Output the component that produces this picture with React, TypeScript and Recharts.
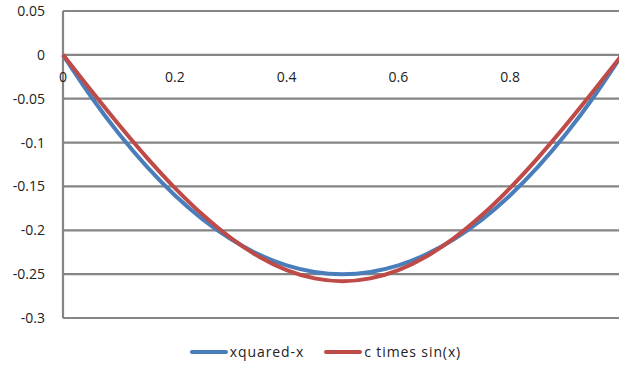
import { LineChart, Line, XAxis, YAxis, CartesianGrid, Legend, ReferenceDot } from 'recharts'

const xs = [0, 0.05, 0.1, 0.15, 0.2, 0.25, 0.3, 0.35, 0.4, 0.45, 0.5, 0.55, 0.6, 0.65, 0.7, 0.75, 0.8, 0.85, 0.9, 0.95, 1]
const squaredMinusX = [0, -0.0475, -0.09, -0.1275, -0.16, -0.1875, -0.21, -0.2275, -0.24, -0.2475, -0.25, -0.2475, -0.24, -0.2275, -0.21, -0.1875, -0.16, -0.1275, -0.09, -0.0475, 0]
const cTimesSin = [0, -0.0404, -0.0797, -0.1171, -0.1516, -0.1824, -0.2087, -0.2299, -0.2454, -0.2548, -0.258, -0.2548, -0.2454, -0.2299, -0.2087, -0.1824, -0.1516, -0.1171, -0.0797, -0.0404, 0]

const xTicks = [0, 0.2, 0.4, 0.6, 0.8, 1]
const xTickLabels = ['0', '0.2', '0.4', '0.6', '0.8', '']
const yTicks = [-0.3, -0.25, -0.2, -0.15, -0.1, -0.05, 0, 0.05]

const seriesNames = ['xquared-x', 'c times sin(x)']
const colors = ['#4a7ebb', '#be4b48']

const data = xs.map((x, i) => ({ x, a: squaredMinusX[i], b: cTimesSin[i] }))

const font = '"Open Sans", sans-serif'
const textColor = '#222'

function LegendContent() {
    return (
        <div style={{ display: 'flex', justifyContent: 'center', paddingTop: 23, paddingLeft: 49, fontFamily: font, fontSize: 14, letterSpacing: 0.9, color: textColor }}>
            {seriesNames.map((name, i) => (
                <div key={name} style={{ display: 'flex', alignItems: 'center', marginRight: 20 }}>
                    <div style={{ width: 38, height: 4, background: colors[i], borderRadius: 2, marginRight: 2 }} />
                    <span>{name}</span>
                </div>
            ))}
        </div>
    )
}

export default function App() {
    return (
        <div style={{ position: 'absolute', left: 0, top: 0, width: 619, height: 367, overflow: 'hidden', background: '#fff' }}>
            <LineChart width={640} height={367} data={data} margin={{ top: 11, right: 18, left: 0, bottom: 0 }}>
                <CartesianGrid stroke="#858585" strokeWidth={2.2} />
                <XAxis dataKey="x" type="number" domain={[0, 1]} ticks={xTicks} height={1} tick={false} axisLine={false} tickLine={false} />
                <YAxis
                    type="number"
                    domain={[-0.3, 0.05]}
                    ticks={yTicks}
                    width={63}
                    axisLine={false}
                    tickLine={false}
                    tickSize={0}
                    tickMargin={18}
                    tick={{ fill: textColor, fontSize: 14, fontFamily: font }}
                    tickFormatter={(v: number) => String(Math.round(v * 100) / 100)}
                />
                {xTicks.map((t, i) => (
                    <ReferenceDot
                        key={t}
                        x={t}
                        y={0}
                        r={0}
                        fill="none"
                        stroke="none"
                        label={{ value: xTickLabels[i], position: 'bottom', offset: 17, fill: textColor, fontSize: 14, fontFamily: font }}
                    />
                ))}
                <Legend verticalAlign="bottom" height={48} content={() => <LegendContent />} />
                <Line dataKey="a" name={seriesNames[0]} type="monotone" stroke={colors[0]} strokeWidth={4} dot={false} isAnimationActive={false} />
                <Line dataKey="b" name={seriesNames[1]} type="monotone" stroke={colors[1]} strokeWidth={4} dot={false} isAnimationActive={false} />
            </LineChart>
        </div>
    )
}
